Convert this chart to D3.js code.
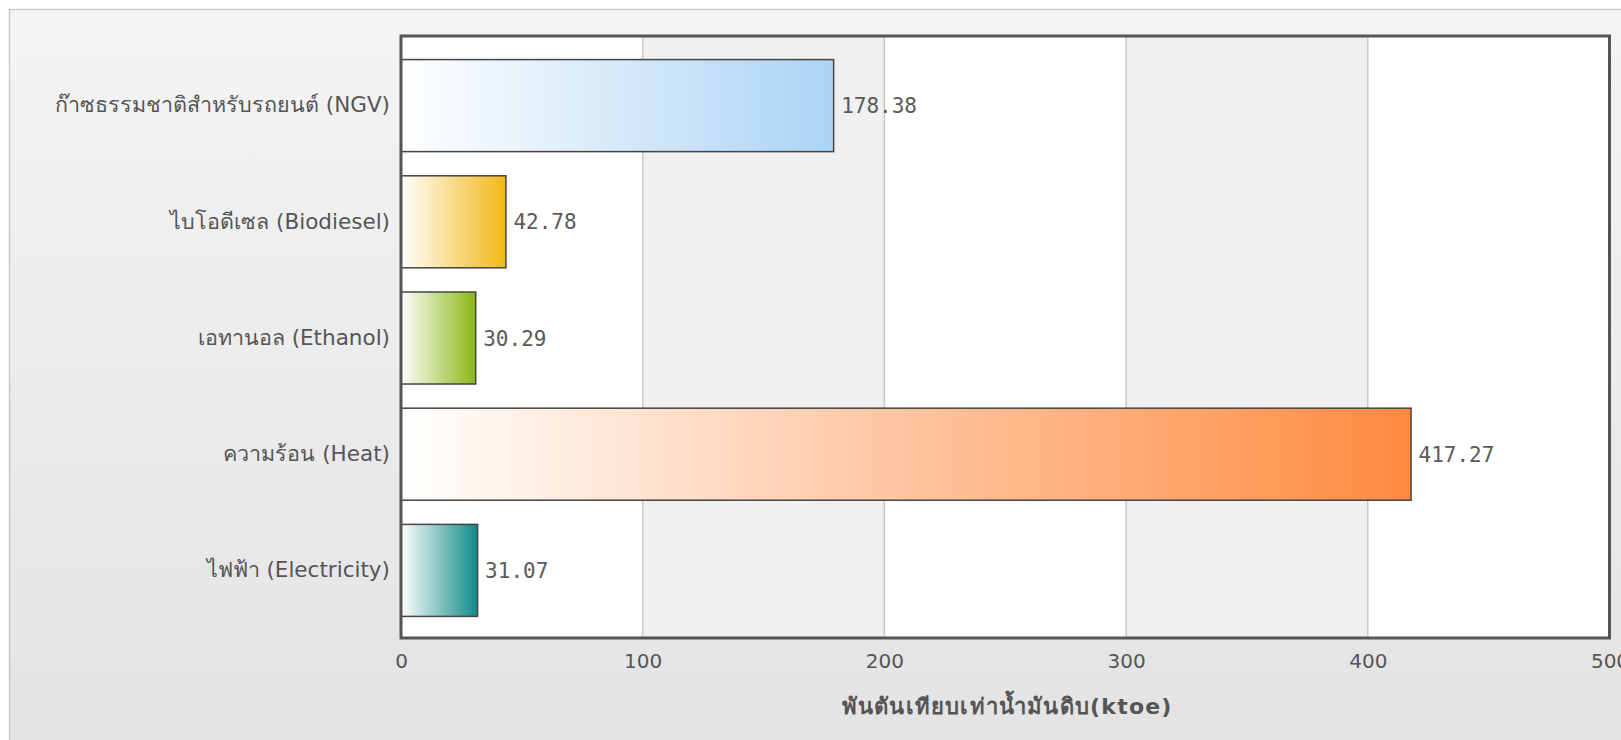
<!DOCTYPE html>
<html>
<head>
<meta charset="utf-8">
<script src="https://cdn.jsdelivr.net/npm/d3@7"></script>
<style>
  html, body { margin: 0; padding: 0; background: #ffffff; }
  svg { display: block; }
</style>
</head>
<body>
<svg id="chart" width="1621" height="740"></svg>
<script>
// ---- data ----
const categories = [
  "ก๊าซธรรมชาติสำหรับรถยนต์ (NGV)",
  "ไบโอดีเซล (Biodiesel)",
  "เอทานอล (Ethanol)",
  "ความร้อน (Heat)",
  "ไฟฟ้า (Electricity)"
];
const values = [178.38, 42.78, 30.29, 417.27, 31.07];
const barColors = ["#acd4f5", "#f2b814", "#8bb713", "#ff8a3f", "#0e8b88"];
const xTicks = [0, 100, 200, 300, 400, 500];
const xAxisTitle = "พันตันเทียบเท่าน้ำมันดิบ(ktoe)";

// ---- layout ----
const W = 1621, H = 740;
const plot = { left: 401, right: 1609.5, top: 36, bottom: 638 };

const svg = d3.select("#chart");
const defs = svg.append("defs");

// panel background gradient
const bg = defs.append("linearGradient").attr("id", "bgGrad")
  .attr("x1", 0).attr("y1", 0).attr("x2", 0).attr("y2", 1);
bg.append("stop").attr("offset", "0%").attr("stop-color", "#f4f4f4");
bg.append("stop").attr("offset", "100%").attr("stop-color", "#e3e3e3");

svg.append("rect").attr("x", 0).attr("y", 0).attr("width", W).attr("height", H).attr("fill", "#ffffff");
svg.append("rect")
  .attr("x", 9.5).attr("y", 9.5).attr("width", W).attr("height", H)
  .attr("fill", "url(#bgGrad)").attr("stroke", "#c9c9c9").attr("stroke-width", 1.5);

// scales
const x = d3.scaleLinear().domain([0, 500]).range([plot.left, plot.right]);
const y = d3.scaleBand().domain(categories).range([47.5, 628.5])
  .paddingInner(0.208).paddingOuter(0.104);

// alternating background bands
const bandPairs = d3.pairs(xTicks);
svg.append("g").selectAll("rect").data(bandPairs).join("rect")
  .attr("x", d => x(d[0])).attr("y", plot.top)
  .attr("width", d => x(d[1]) - x(d[0])).attr("height", plot.bottom - plot.top)
  .attr("fill", (d, i) => i % 2 === 1 ? "#f0f0f0" : "#ffffff");

// vertical grid lines
svg.append("g").selectAll("line").data(xTicks.slice(1, -1)).join("line")
  .attr("x1", d => x(d)).attr("x2", d => x(d))
  .attr("y1", plot.top).attr("y2", plot.bottom)
  .attr("stroke", "#c8c8c8").attr("stroke-width", 1.5);

// bar gradients
categories.forEach((c, i) => {
  const g = defs.append("linearGradient").attr("id", "barGrad" + i)
    .attr("x1", 0).attr("y1", 0).attr("x2", 1).attr("y2", 0);
  g.append("stop").attr("offset", "0%").attr("stop-color", "#ffffff");
  g.append("stop").attr("offset", "100%").attr("stop-color", barColors[i]);
});

// bars
svg.append("g").selectAll("rect").data(values).join("rect")
  .attr("x", x(0)).attr("y", (d, i) => y(categories[i]))
  .attr("width", d => x(d) - x(0) + 1.5).attr("height", y.bandwidth())
  .attr("fill", (d, i) => `url(#barGrad${i})`)
  .attr("stroke", "#444444").attr("stroke-width", 1.5);

// value labels
svg.append("g").selectAll("text").data(values).join("text")
  .attr("x", d => x(d) + 9)
  .attr("y", (d, i) => y(categories[i]) + y.bandwidth() / 2)
  .attr("dy", "0.36em")
  .attr("font-family", "'DejaVu Sans Mono', monospace")
  .attr("font-size", 21)
  .attr("fill", "#5a5a5a")
  .text(d => d.toFixed(2));

// plot border
svg.append("rect")
  .attr("x", plot.left).attr("y", plot.top)
  .attr("width", plot.right - plot.left).attr("height", plot.bottom - plot.top)
  .attr("fill", "none").attr("stroke", "#555555").attr("stroke-width", 3);

// y axis (category labels)
const yAxis = d3.axisLeft(y).tickSize(0).tickPadding(11);
const gy = svg.append("g").attr("transform", `translate(${plot.left},0)`).call(yAxis);
gy.select(".domain").remove();
gy.selectAll("text")
  .attr("font-family", "'DejaVu Sans', Verdana, sans-serif")
  .attr("font-size", 21.5)
  .attr("fill", "#555555");

// x axis
const xAxis = d3.axisBottom(x).tickValues(xTicks).tickSize(0).tickPadding(16)
  .tickFormat(d3.format("d"));
const gx = svg.append("g").attr("transform", `translate(0,${plot.bottom})`).call(xAxis);
gx.select(".domain").remove();
gx.selectAll("text")
  .attr("font-family", "'DejaVu Sans', Verdana, sans-serif")
  .attr("font-size", 20)
  .attr("fill", "#555555");

// x axis title
svg.append("text")
  .attr("x", (plot.left + plot.right) / 2 + 2)
  .attr("y", 714)
  .attr("text-anchor", "middle")
  .attr("font-family", "'DejaVu Sans', Verdana, sans-serif")
  .attr("font-weight", "bold")
  .attr("font-size", 22)
  .attr("letter-spacing", 1.2)
  .attr("fill", "#555555")
  .text(xAxisTitle);
</script>
</body>
</html>
